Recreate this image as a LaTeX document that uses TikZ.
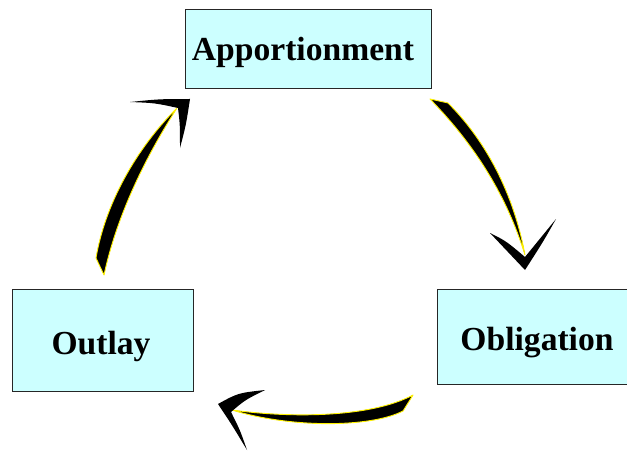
\documentclass[tikz,border=0pt]{standalone}
\usepackage{fontspec}
\setmainfont{Liberation Serif}
\begin{document}
\begin{tikzpicture}[x=1pt,y=-1pt,
  stagebox/.style={draw=black!85,line width=0.9pt,fill=boxcyan,rectangle,inner sep=0pt},
  stagetext/.style={anchor=base,inner sep=0pt,font=\fontsize{33.6}{40}\selectfont\bfseries},
  swoosh/.style={fill=black,draw=yellow,line width=0.9pt,line join=round},
  chevron/.style={fill=black,draw=none}]
\definecolor{boxcyan}{HTML}{CCFFFF}
\useasboundingbox (0,0) rectangle (627,452);
\clip (0,0) rectangle (627,452);
% boxes
\node[stagebox,minimum width=246pt,minimum height=79pt] (app) at (308,48.5) {};
\node[stagebox,minimum width=181pt,minimum height=102pt] (out) at (102.5,340) {};
\node[stagebox,minimum width=200pt,minimum height=95pt] (obl) at (537,336.5) {};
\node[stagetext] (appt) at (303,61) {Apportionment};
\node[stagetext] (oblt) at (537,350) {Obligation};
\node[stagetext] (outt) at (101,354) {Outlay};
% arrow 1: Apportionment -> Obligation
\coordinate (a1tip) at (525,255);
\fill[swoosh] (448,103) .. controls (480,135) and (512,185) .. (a1tip)
  .. controls (505,190) and (470,140) .. (430,99) -- cycle;
\fill[chevron] (490,233) .. controls (506,241) .. (525,257)
  .. controls (540,238) .. (556,219)
  .. controls (543,242) .. (525,270)
  .. controls (508,252) .. (490,233) -- cycle;
% arrow 2: Obligation -> Outlay
\coordinate (a2tip) at (232,410);
\fill[swoosh] (413,395) .. controls (370,418) and (290,418) .. (a2tip)
  .. controls (290,428) and (370,428) .. (403,411) -- cycle;
\fill[chevron] (265,390) .. controls (238,393) .. (218,404)
  .. controls (232,425) .. (247,450)
  .. controls (240,430) .. (231,412)
  .. controls (245,400) .. (265,390) -- cycle;
% arrow 3: Outlay -> Apportionment
\coordinate (a3tip) at (177,108);
\fill[swoosh] (96,258) .. controls (105,205) and (135,150) .. (a3tip)
  .. controls (150,150) and (118,210) .. (104,275) -- cycle;
\fill[chevron] (130,102) .. controls (160,99) .. (190,99)
  .. controls (186,125) .. (180,148)
  .. controls (180,125) .. (178,108)
  .. controls (155,103) .. (130,102) -- cycle;
\end{tikzpicture}
\end{document}
